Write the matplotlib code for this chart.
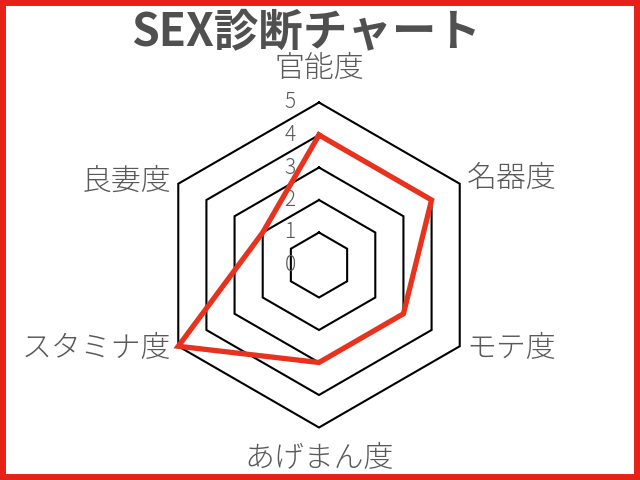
import matplotlib
matplotlib.use("Agg")
import matplotlib.pyplot as plt
from matplotlib.patches import Rectangle
import numpy as np

plt.rcParams['font.family'] = ['Noto Sans CJK JP', 'DejaVu Sans']

# data
categories = ["官能度", "名器度", "モテ度", "あげまん度", "スタミナ度", "良妻度"]
scores = [4, 4, 3, 3, 5, 2]
levels = [1, 2, 3, 4, 5]
tick_labels = ["0", "1", "2", "3", "4", "5"]
title = "SEX診断チャート"

red = "#e8321e"
gray = "#595959"

fig = plt.figure(figsize=(6.4, 4.8), dpi=100)
ax = fig.add_axes([0, 0, 1, 1])
u = 32.5  # pixels per unit
cx, cy = 319, 265
ax.set_xlim(-cx / u, (640 - cx) / u)
ax.set_ylim(-(480 - cy) / u, cy / u)
ax.axis("off")

n = len(categories)
ang = np.deg2rad(90 - 360.0 / n * np.arange(n))
ang_c = np.append(ang, ang[0])

# hexagon grid
for lv in levels:
    ax.plot(lv * np.cos(ang_c), lv * np.sin(ang_c), color="black", lw=1.5,
            solid_joinstyle="miter", zorder=1)

# data line
vals = np.append(scores, scores[0])
ax.plot(vals * np.cos(ang_c), vals * np.sin(ang_c), color=red, lw=3.8,
        solid_joinstyle="miter", zorder=3)

# radial tick labels
for i, t in enumerate(tick_labels):
    ax.annotate(t, xy=(0, i), xytext=(-29, 0), textcoords="offset pixels",
                ha="center", va="center", fontsize=15, color=gray,
                fontweight="light", zorder=2)

# category labels
rmax = levels[-1]
offs = [(0, 34, "center", "center"),
        (7, 5, "left", "center"),
        (7, -2, "left", "center"),
        (0, -31, "center", "center"),
        (-7, -2, "right", "center"),
        (-7, 2, "right", "center")]
for lab, a, (dx, dy, ha, va) in zip(categories, ang, offs):
    ax.annotate(lab, xy=(rmax * np.cos(a), rmax * np.sin(a)), xytext=(dx, dy),
                textcoords="offset pixels", ha=ha, va=va, fontsize=21.5,
                color=gray, fontweight="light")

fig.text(306 / 640, 1 - 32 / 480, title, ha="center", va="center",
         fontsize=32, fontweight="bold", color="#505050")

fig.patches.append(Rectangle((0, 0), 1, 1, transform=fig.transFigure, fill=False,
                             ec="#e62117", lw=8.6))

fig.savefig("out.png", dpi=100)
